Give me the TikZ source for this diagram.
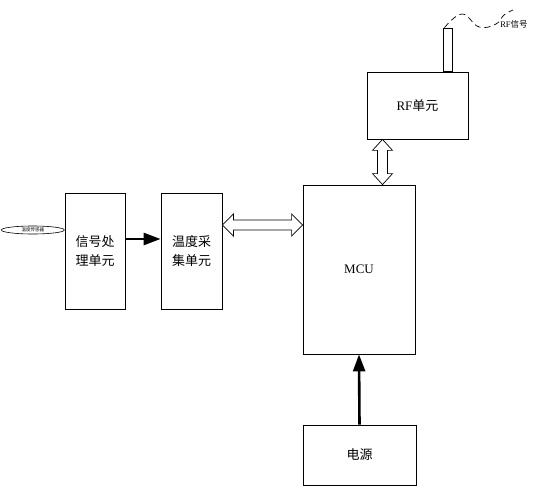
\documentclass[tikz,border=0pt]{standalone}
\usepackage{fontspec}
\setmainfont{Liberation Serif}
\newfontfamily\cjk{Noto Sans CJK SC}
\usetikzlibrary{calc,arrows.meta,shapes.geometric}
\begin{document}
\begin{tikzpicture}[x=1pt,y=-1pt,line width=.8pt,
	box/.style={draw,inner sep=0,align=center,font=\cjk\fontsize{13}{19}\selectfont},
	thickarrow/.style={line width=2.6pt,-{Triangle[length=17pt,width=12pt]}},
	hollow/.style={draw,line width=.7pt,fill=white,line join=miter}]
			\useasboundingbox (0,0) rectangle (540,497);
			% blocks
			\node[box,minimum width=60,minimum height=116] (sig) at (95,251) {信号处\\理单元};
			\node[box,minimum width=61,minimum height=116] (tmp) at (191.5,251) {温度采\\集单元};
			\node[box,minimum width=112,minimum height=169,font=\fontsize{13}{15}\selectfont] (mcu) at (359,269.5) {MCU};
			\node[box,minimum width=101,minimum height=67,font=\fontsize{13}{15}\selectfont] (rf) at (417.5,105.5) {RF{\cjk 单元}};
			\node[box,minimum width=113,minimum height=60] (pwr) at (359.5,455) {电源};
			\node[draw,ellipse,inner sep=0,minimum width=63,minimum height=8,line width=.6pt,
				font=\cjk\fontsize{4.5}{5}\selectfont,anchor=east] (sen) at ($(sig.west)+(0,-21)$) {温度传感器};
			% antenna
			\draw ($(rf.north)+(25.5,0)$) rectangle ++(9,-43);
			\coordinate (ant) at ($(rf.north)+(27,-44)$);
			\draw[dashed,dash pattern=on 6pt off 4pt,line width=.7pt] plot[smooth,tension=.7] coordinates
				{(ant) (462,14) (479,27) (496,24) (504,15) (513,10)};
			\node[font=\fontsize{8.5}{9}\selectfont,inner sep=0] (sigtxt) at (514,24) {RF{\cjk 信号}};
			% links
			\draw[thickarrow] ($(sig.east)+(0,-12)$) -- ($(tmp.west)+(0,-12)$);
			\draw[thickarrow] (pwr.north) -- (mcu.south);
			\draw[hollow] let \p1=($(tmp.east)+(0,-26)$), \p2=(mcu.west) in
				(\x1,\y1) -- (\x1+11pt,\y1+11pt) -- (\x1+11pt,\y1+5pt) -- (\x2-11pt,\y1+5pt)
				-- (\x2-11pt,\y1+11pt) -- (\x2,\y1) -- (\x2-11pt,\y1-11pt) -- (\x2-11pt,\y1-5pt)
				-- (\x1+11pt,\y1-5pt) -- (\x1+11pt,\y1-11pt) -- cycle;
			\draw[hollow] let \p1=($(rf.south)+(-35,0)$), \p2=(mcu.north) in
				(\x1,\y1) -- (\x1+10pt,\y1-11pt) -- (\x1+5pt,\y1-11pt) -- (\x1+5pt,\y2+11pt)
				-- (\x1+10pt,\y2+11pt) -- (\x1,\y2) -- (\x1-10pt,\y2+11pt) -- (\x1-5pt,\y2+11pt)
				-- (\x1-5pt,\y1-11pt) -- (\x1-10pt,\y1-11pt) -- cycle;
\end{tikzpicture}
\end{document}
